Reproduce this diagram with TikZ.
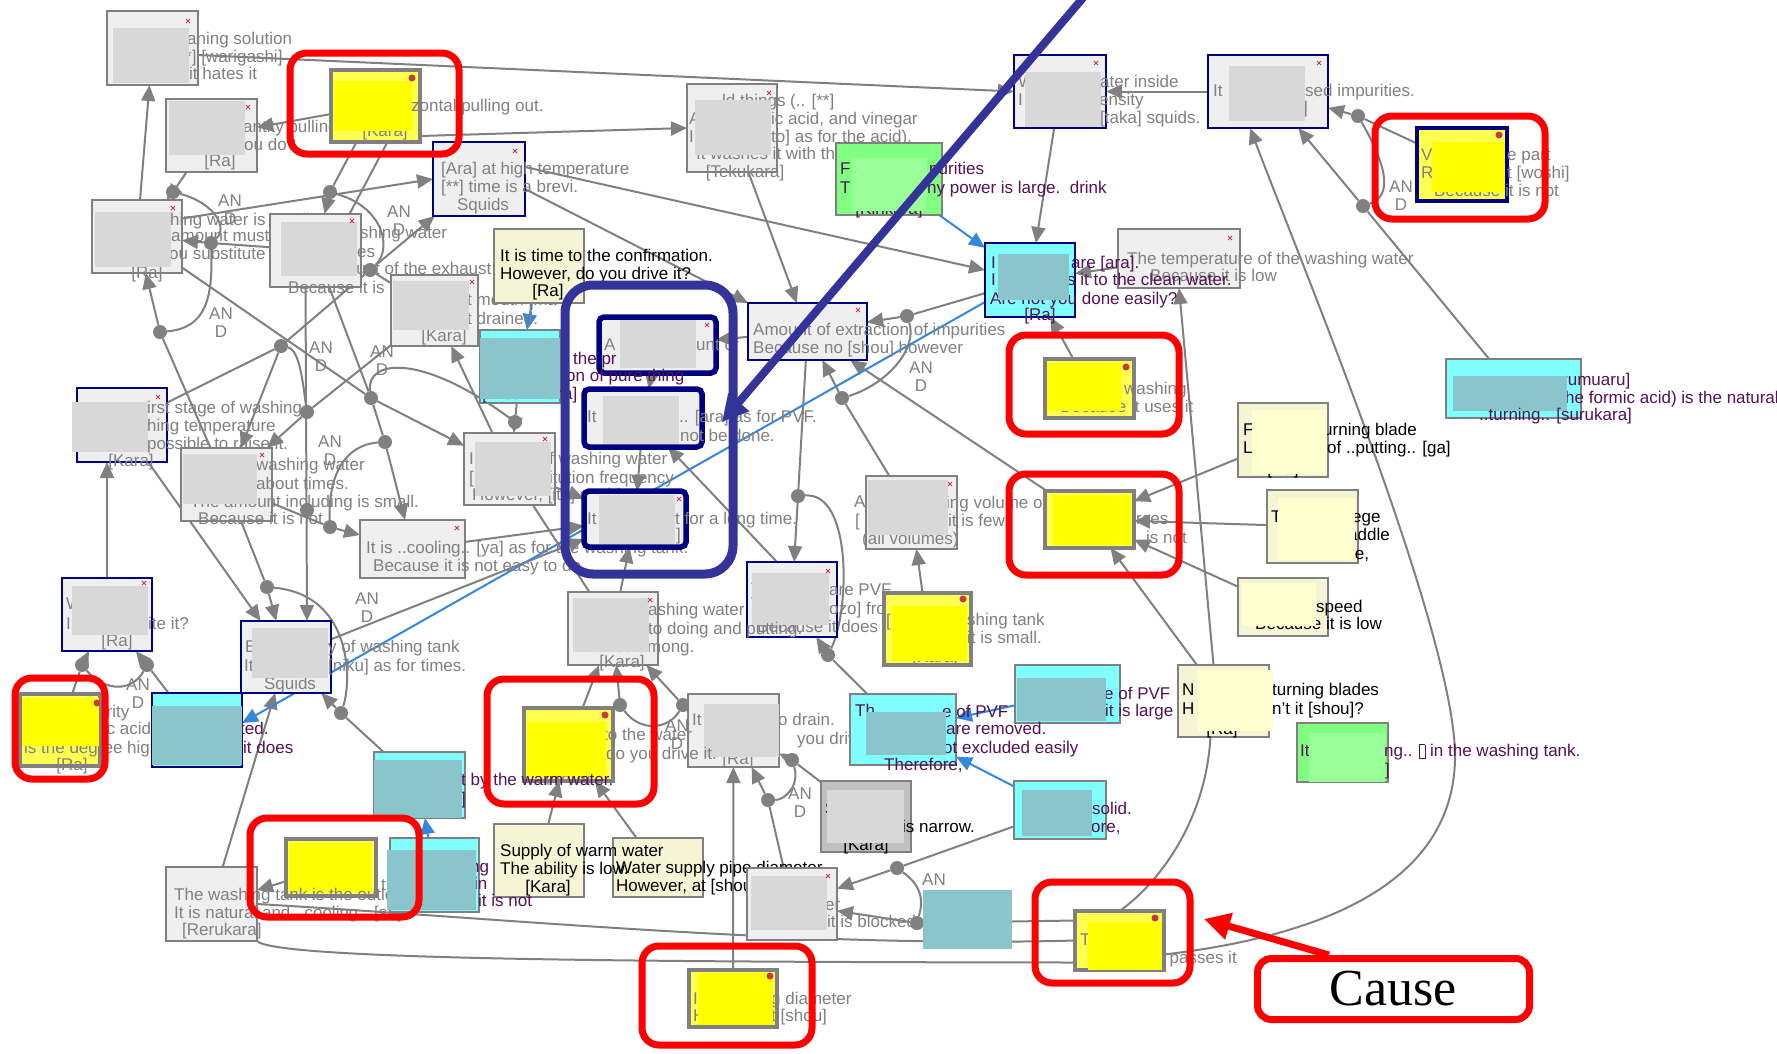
\documentclass[tikz,border=0pt]{standalone}
\usepackage{fontspec}
\setmainfont{Liberation Sans}
\newfontfamily\causefont{Liberation Serif}
\usetikzlibrary{arrows.meta,fit,backgrounds}

\definecolor{lgray}{HTML}{808080}
\definecolor{txtgray}{HTML}{808080}
\definecolor{boxfill}{HTML}{EFEFEF}
\definecolor{phgray}{HTML}{D8D8D8}
\definecolor{navybd}{HTML}{000080}
\definecolor{grpblue}{HTML}{333399}
\definecolor{yelbox}{HTML}{FFFF50}
\definecolor{yelph}{HTML}{FFFF00}
\definecolor{cyanbox}{HTML}{80FFFF}
\definecolor{cyanph}{HTML}{8AC5CC}
\definecolor{creambox}{HTML}{F5F5D5}
\definecolor{creamph}{HTML}{FFFFD0}
\definecolor{greenbox}{HTML}{80FF80}
\definecolor{greenph}{HTML}{99FF99}
\definecolor{darkbox}{HTML}{C0C0C0}
\definecolor{purp}{HTML}{551155}
\definecolor{linkblue}{HTML}{3388DD}
\definecolor{pinred}{HTML}{C83848}

\newcommand\fs{\fontsize{17}{18}\selectfont}
\newcommand\tofu{\raisebox{-1.5pt}{\setlength{\fboxsep}{0pt}\setlength{\fboxrule}{0.8pt}\fbox{\rule{0pt}{13pt}\rule{5pt}{0pt}}}}

% box from two corners, placeholder patch, text line
\newcommand\bx[6]{\node[#1, fit={(#3,#4) (#5,#6)}] (#2) {};}
\newcommand\ph[5]{\fill[#1] (#2,#3) rectangle (#4,#5);}
\newcounter{tl}
\newcommand\tw[4]{\stepcounter{tl}\node[#1] (t\arabic{tl}) at (#2,#3) {#4};}
\newcommand\andl[2]{\tw{cgray}{#1}{#2}{AN}\tw{cgray}{#1}{#2+18}{D}}
\newcommand\xm[2]{\draw[pinred, line width=0.9pt] (#1-2,#2-2) -- (#1+2,#2+2) (#1-2,#2+2) -- (#1+2,#2-2);}
\newcommand\rd[2]{\fill[pinred] (#1,#2) circle (3.5pt);}

\tikzset{
  base/.style={inner sep=0pt, outer sep=0pt},
  gbox/.style={base, draw=lgray, fill=boxfill, line width=2.2pt},
  nbox/.style={base, draw=navybd, fill=boxfill, line width=2.6pt},
  dbox/.style={base, draw=lgray, fill=darkbox, line width=2.2pt},
  ybox/.style={base, draw=lgray, fill=yelbox, line width=4pt},
  ynbox/.style={base, draw=navybd, fill=yelbox, line width=4.5pt},
  cbox/.style={base, draw=lgray, fill=cyanbox, line width=2.2pt},
  cnbox/.style={base, draw=navybd, fill=cyanbox, line width=2.6pt},
  crbox/.style={base, draw=lgray, fill=creambox, line width=2.2pt},
  grbox/.style={base, draw=lgray, fill=greenbox, line width=2.2pt},
  gin/.style={base, draw=navybd, fill=boxfill, line width=5.5pt, rounded corners=5pt},
  flatph/.style={base, fill=cyanph},
  phg/.style={fill=phgray}, phy/.style={fill=yelph}, phc/.style={fill=cyanph},
  phcr/.style={fill=creamph}, phgr/.style={fill=greenph},
  txt/.style={inner sep=0pt, font=\fs},
  tgray/.style={txt, text=txtgray, anchor=mid west},
  tpurp/.style={txt, text=purp, anchor=mid west},
  tblk/.style={txt, text=black, anchor=mid west},
  cgray/.style={txt, text=txtgray, anchor=mid},
  cpurp/.style={txt, text=purp, anchor=mid},
  cblk/.style={txt, text=black, anchor=mid},
  dotn/.style={circle, fill=lgray, inner sep=0pt, minimum size=14pt},
  conn/.style={draw=lgray, line width=2pt},
  arr/.style={-{Triangle[length=16pt,width=14pt]}},
  blueconn/.style={draw=linkblue, line width=2pt, -{Triangle[length=16pt,width=14pt]}},
  hilite/.style={draw=red, line width=7pt, rounded corners=17pt},
  grp/.style={draw=grpblue, line width=9pt, rounded corners=28pt},
}

\begin{document}
\begin{tikzpicture}[x=1pt, y=-1pt]
\useasboundingbox (0,0) rectangle (1777,1053);

% ---------- AND labels
\andl{230}{204}\andl{221}{317}\andl{399}{215}\andl{321}{351}
\andl{382}{355}\andl{330}{445}\andl{367}{602}\andl{138}{688}
\andl{921}{371}\andl{677}{729}\andl{800}{797}\andl{1401}{190}
\andl{934}{883}

% ---------- junction dots
\node[dotn] (dA) at (173,192) {};
\node[dotn] (dB) at (211,243) {};
\node[dotn] (dC) at (160,332) {};
\node[dotn] (dD) at (330,192) {};
\node[dotn] (dE) at (370,270) {};
\node[dotn] (dF) at (281,346) {};
\node[dotn] (dG) at (307,412) {};
\node[dotn] (dH) at (307,510) {};
\node[dotn] (dI) at (371,398) {};
\node[dotn] (dJ) at (385,442) {};
\node[dotn] (dK) at (330,527) {};
\node[dotn] (dL) at (267,587) {};
\node[dotn] (dM) at (341,713) {};
\node[dotn] (dN) at (82,665) {};
\node[dotn] (dO) at (147,665) {};
\node[dotn] (dT) at (620,705) {};
\node[dotn] (dU) at (683,705) {};
\node[dotn] (dV) at (792,760) {};
\node[dotn] (dW) at (768,800) {};
\node[dotn] (dX) at (897,868) {};
\node[dotn] (dY) at (917,923) {};
\node[dotn] (dS) at (907,316) {};
\node[dotn] (dR) at (842,398) {};
\node[dotn] (dP) at (798,496) {};
\node[dotn] (dQ) at (828,655) {};
\node[dotn] (dZa) at (1358,116) {};
\node[dotn] (dZb) at (1363,206) {};
\node[dotn] (dDel) at (515,422) {};

% ---------- top left
\bx{gbox}{N1}{107}{11}{198}{85}
\tw{tgray}{187}{42}{aning solution}
\tw{tgray}{185}{60}{*] [warigashi]}
\tw{tgray}{189}{77}{it hates it}
\ph{phg}{113}{28}{189}{83}
\xm{188}{21}

\bx{gbox}{N2}{166}{99}{257}{172}
\tw{tgray}{243}{130}{antity pulling}
\tw{tgray}{244}{148}{ou do?}
\tw{cgray}{220}{164}{[Ra]}
\ph{phg}{169}{101}{245}{155}
\xm{248}{107}

\bx{ybox}{Y1}{331}{70}{420}{142}
\tw{tgray}{411}{109}{zontal pulling out.}
\tw{cgray}{385}{134}{[Kara]}
\ph{phy}{334}{81}{412}{131}
\rd{412}{78}

\bx{gbox}{N3}{92}{200}{182}{273}
\tw{tgray}{170}{223}{hing water is small}
\tw{tgray}{171}{239}{amount must}
\tw{tgray}{169}{257}{ou substitute it}
\tw{cgray}{147}{276}{[Ra]}
\ph{phg}{95}{212}{171}{267}
\xm{173}{208}

\bx{gbox}{N4}{270}{214}{361}{287}
\tw{tgray}{360}{236}{shing water}
\tw{tgray}{357}{255}{es}
\tw{tgray}{289}{272}{The amount of the exhaust}
\tw{tgray}{288}{291}{Because it is}
\ph{phg}{281}{222}{357}{276}
\xm{352}{221}

\bx{nbox}{N6}{433}{142}{525}{216}
\tw{tgray}{441}{172}{[Ara] at high temperature}
\tw{tgray}{441}{190}{[**] time is a brevi.}
\tw{cgray}{483}{208}{Squids}
\xm{515}{151}

\bx{gbox}{N5}{391}{275}{478}{346}
\tw{tgray}{467}{303}{t mouth [ma}
\tw{tgray}{467}{322}{t drained.}
\tw{cgray}{444}{339}{[Kara]}
\ph{phg}{393}{281}{469}{330}
\xm{472}{282}

\bx{crbox}{N8}{494}{229}{584}{303}
\tw{tblk}{500}{259}{It is time to the confirmation.}
\tw{tblk}{500}{277}{However, do you drive it?}
\tw{cblk}{548}{294}{[Ra]}

% ---------- group, first member with neighbour
\bx{gin}{G1}{599}{317}{716}{373}
\tw{tgray}{604}{348}{A}
\tw{tgray}{696}{348}{unt of}
\xm{707}{325}
\bx{cbox}{N31}{480}{330}{560}{403}
\tw{tpurp}{573}{362}{the pr}
\tw{tpurp}{566}{379}{on of pure thing}
\tw{tpurp}{482}{397}{[Woshimura]}
\ph{phc}{480}{338}{560}{399}
\ph{phg}{620}{320}{696}{368}

% ---------- top middle / right
\bx{gbox}{N7}{687}{84}{777}{172}
\tw{tgray}{722}{104}{ld things (.. [**]}
\tw{tgray}{689}{122}{A}
\tw{tgray}{771}{122}{ic acid, and vinegar}
\tw{tgray}{689}{140}{I}
\tw{tgray}{771}{140}{to] as for the acid).}
\tw{tgray}{696}{157}{It washes it with the liquid}
\tw{cgray}{745}{175}{[Tekukara]}
\ph{phg}{695}{100}{771}{155}
\xm{769}{93}

\bx{grbox}{N9}{836}{143}{942}{215}
\tw{tpurp}{840}{172}{F}
\tw{tpurp}{929}{172}{purities}
\tw{tpurp}{840}{191}{T}
\tw{tpurp}{927}{191}{ny power is large.\ \ drink}
\tw{cpurp}{889}{212}{[Kinkara]}
\ph{phgr}{852}{158}{927}{211}

\bx{nbox}{N10}{748}{303}{867}{360}
\tw{tgray}{753}{333}{Amount of extraction of impurities}
\tw{tgray}{753}{351}{Because no [shou] however}
\xm{858}{310}

\bx{nbox}{N11}{1014}{55}{1106}{128}
\tw{tgray}{1018}{85}{W}
\tw{tgray}{1100}{85}{ater inside}
\tw{tgray}{1018}{103}{I}
\tw{tgray}{1099}{103}{ensity}
\tw{tgray}{1100}{121}{[taka] squids.}
\ph{phg}{1025}{72}{1101}{127}
\xm{1096}{63}

\bx{nbox}{N12}{1208}{55}{1328}{128}
\tw{tgray}{1213}{94}{It}
\tw{tgray}{1305}{94}{sed impurities.}
\tw{tgray}{1303}{111}{]}
\ph{phg}{1229}{66}{1305}{121}
\xm{1319}{63}

\bx{gbox}{N14}{1118}{229}{1240}{288}
\tw{tgray}{1127}{262}{The temperature of the washing water}
\tw{tgray}{1150}{279}{Because it is low}
\xm{1230}{238}

\bx{cnbox}{N13}{985}{243}{1075}{317}
\tw{tpurp}{991}{266}{I}
\tw{tpurp}{1071}{266}{are [ara].}
\tw{tpurp}{991}{283}{I}
\tw{tpurp}{1067}{283}{s it to the clean water.}
\tw{tpurp}{990}{302}{Are not you done easily?}
\tw{cpurp}{1040}{318}{[Ra]}
\ph{phc}{998}{254}{1069}{300}

\bx{ynbox}{Y2}{1417}{128}{1507}{201}
\tw{tgray}{1421}{158}{V}
\tw{tgray}{1507}{158}{e part}
\tw{tgray}{1421}{176}{R}
\tw{tgray}{1507}{176}{t [woshi]}
\tw{tgray}{1434}{194}{Because it is not}
\ph{phy}{1432}{142}{1505}{192}
\rd{1499}{135}

\bx{cbox}{N15}{1446}{359}{1581}{418}
\tw{tpurp}{1562}{383}{rumuaru]}
\tw{tpurp}{1565}{401}{he formic acid) is the natural}
\ph{phc}{1453}{376}{1567}{411}
\tw{tpurp}{1479}{418}{..turning.. [surukara]}

\bx{ybox}{Y3}{1045}{359}{1134}{418}
\tw{tgray}{1124}{392}{washing}
\tw{tgray}{1060}{410}{Because it uses it}
\ph{phy}{1047}{363}{1121}{411}
\rd{1126}{367}

% ---------- right column
\bx{crbox}{C1}{1238}{403}{1328}{477}
\tw{tblk}{1243}{433}{F}
\tw{tblk}{1323}{433}{urning blade}
\tw{tblk}{1243}{451}{L}
\tw{tblk}{1327}{451}{of ..putting.. [ga]}
\tw{cblk}{1283}{472}{[Ra]}
\ph{phcr}{1252}{410}{1327}{474}

\bx{crbox}{C2}{1267}{490}{1358}{563}
\tw{tblk}{1271}{520}{T}
\tw{tblk}{1352}{520}{ege}
\tw{tblk}{1348}{538}{addle}
\tw{tblk}{1349}{557}{re,}
\ph{phcr}{1278}{498}{1355}{560}

\bx{crbox}{C3}{1238}{578}{1328}{636}
\tw{tblk}{1316}{610}{speed}
\tw{tblk}{1255}{627}{Because it is low}
\ph{phcr}{1242}{583}{1316}{626}

\bx{ybox}{Y5}{1045}{491}{1134}{548}
\tw{tgray}{1136}{522}{rces}
\tw{tgray}{1146}{541}{is not}
\ph{phy}{1053}{495}{1131}{545}

\bx{gbox}{N17}{866}{476}{957}{549}
\tw{tgray}{854}{505}{A}
\tw{tgray}{946}{506}{ing volume of}
\tw{tgray}{855}{524}{[}
\tw{tgray}{948}{524}{it is few}
\tw{tgray}{862}{542}{(all volumes)}
\ph{phg}{868}{480}{948}{535}
\xm{950}{484}

\bx{nbox}{N35}{747}{562}{837}{637}
\tw{tgray}{751}{593}{]}
\tw{tgray}{829}{593}{are PVF}
\tw{tgray}{829}{612}{ozo] from}
\tw{tgray}{757}{630}{Because it does}
\ph{phg}{752}{573}{829}{625}
\xm{828}{571}

\bx{ybox}{Y4}{884}{593}{971}{665}
\tw{tgray}{886}{624}{[}
\tw{tgray}{967}{623}{shing tank}
\tw{tgray}{967}{641}{it is small.}
\tw{cgray}{935}{660}{[Kara]}
\ph{phy}{892}{606}{967}{661}
\rd{963}{599}

\bx{crbox}{C4}{1178}{665}{1269}{737}
\tw{tblk}{1182}{693}{N}
\tw{tblk}{1272}{693}{turning blades}
\tw{tblk}{1182}{712}{H}
\tw{tblk}{1272}{712}{n't it [shou]?}
\tw{cblk}{1222}{732}{[Ra]}
\ph{phcr}{1198}{670}{1273}{731}

\bx{cbox}{N18}{1015}{665}{1120}{723}
\tw{tpurp}{1104}{697}{e of PVF}
\tw{tpurp}{1105}{714}{it is large}
\ph{phc}{1017}{678}{1106}{721}

\bx{grbox}{N16}{1297}{723}{1388}{782}
\tw{tpurp}{1300}{754}{It}
\tw{tpurp}{1384}{754}{ng.. \tofu\ in the washing tank.}
\tw{tpurp}{1385}{773}{]}
\ph{phgr}{1309}{733}{1385}{782}

\bx{cbox}{N20}{1014}{781}{1106}{839}
\tw{tpurp}{1092}{812}{solid.}
\tw{tpurp}{1091}{830}{ore,}
\ph{phc}{1022}{790}{1092}{836}

\bx{dbox}{N21}{821}{781}{911}{852}
\tw{tblk}{825}{812}{S}
\tw{tblk}{902}{830}{is narrow.}
\tw{cblk}{866}{848}{[Kara]}
\ph{phg}{827}{790}{904}{843}

% ---------- bottom middle
\bx{crbox}{N30}{613}{838}{703}{897}
\tw{tblk}{616}{871}{Water supply pipe diameter}
\tw{tblk}{616}{889}{However, at [shou]}

\bx{crbox}{N29}{494}{824}{584}{897}
\tw{tblk}{500}{854}{Supply of warm water}
\tw{tblk}{500}{872}{The ability is low.}
\tw{cblk}{548}{890}{[Kara]}

\bx{gbox}{N22}{747}{868}{837}{940}
\tw{tgray}{825}{908}{er}
\tw{tgray}{827}{925}{it is blocked.}
\ph{phg}{751}{876}{827}{930}
\xm{828}{876}

\node[flatph, fit={(923,890) (1012,949)}] (N23) {};

\bx{ybox}{Y9}{1075}{911}{1164}{970}
\tw{tgray}{1080}{943}{T}
\tw{tgray}{1160}{961}{t passes it}
\ph{phy}{1088}{922}{1162}{970}
\rd{1155}{918}

% ---------- left cluster
\bx{nbox}{N36}{77}{388}{167}{462}
\tw{tgray}{147}{411}{irst stage of washing}
\tw{tgray}{147}{429}{hing temperature}
\tw{tgray}{147}{447}{possible to raise it.}
\tw{cgray}{131}{464}{[Kara]}
\ph{phg}{72}{402}{148}{452}
\xm{158}{397}

\bx{gbox}{N37}{181}{448}{272}{521}
\tw{tgray}{256}{468}{washing water}
\tw{tgray}{256}{487}{about times.}
\tw{tgray}{190}{505}{The amount including is small.}
\tw{tgray}{198}{522}{Because it is not}
\ph{phg}{183}{454}{257}{504}
\xm{262}{455}

\bx{gbox}{N33}{360}{520}{465}{578}
\tw{tgray}{366}{551}{It is ..cooling.. [ya] as for the washing tank.}
\tw{tgray}{373}{569}{Because it is not easy to do.}
\xm{457}{528}

\bx{gbox}{N32}{464}{433}{555}{505}
\tw{tgray}{469}{462}{I}
\tw{tgray}{549}{462}{f washing water}
\tw{tgray}{469}{481}{[}
\tw{tgray}{549}{481}{itution frequency}
\tw{tgray}{472}{498}{However, [ita] squids.}
\ph{phg}{475}{442}{551}{496}
\xm{545}{439}

\bx{gin}{G2}{584}{389}{702}{447}
\tw{tgray}{587}{420}{It}
\tw{tgray}{679}{420}{.. [ara] as for PVF.}
\tw{tgray}{680}{439}{not be done.}
\ph{phg}{603}{396}{679}{444}

\bx{gin}{G3}{584}{491}{686}{547}
\tw{tgray}{587}{522}{It}
\tw{tgray}{675}{522}{t for a long time.}
\tw{tgray}{676}{538}{]}
\ph{phg}{599}{495}{675}{544}
\xm{679}{499}

\bx{gbox}{N34}{568}{592}{658}{665}
\tw{tgray}{648}{613}{ashing water}
\tw{tgray}{648}{632}{to doing and putting.}
\tw{tgray}{578}{650}{It takes among.}
\tw{cgray}{622}{665}{[Kara]}
\ph{phg}{573}{598}{649}{652}
\xm{650}{600}

\bx{nbox}{N38}{62}{578}{152}{651}
\tw{tgray}{66}{607}{W}
\tw{tgray}{66}{627}{I}
\tw{tgray}{148}{627}{ite it?}
\tw{cgray}{117}{644}{[Ra]}
\ph{phg}{72}{586}{148}{635}
\xm{144}{583}

\bx{nbox}{N39}{241}{621}{331}{693}
\tw{tgray}{245}{650}{E}
\tw{tgray}{328}{650}{y of washing tank}
\tw{tgray}{244}{669}{It}
\tw{tgray}{328}{669}{[niku] as for times.}
\tw{cgray}{290}{687}{Squids}
\ph{phg}{252}{628}{328}{678}

\bx{ybox}{Y6}{20}{694}{100}{766}
\tw{tgray}{97}{715}{urity}
\tw{tgray}{98}{732}{tic acid}
\tw{tgray}{24}{751}{is the degree high}
\tw{cgray}{72}{768}{[Ra]}
\ph{phy}{22}{698}{99}{746}
\rd{97}{703}

\bx{cnbox}{N24}{152}{693}{242}{767}
\tw{tpurp}{240}{732}{ted.}
\tw{tpurp}{243}{751}{it does}
\ph{phc}{152}{706}{242}{765}

\bx{gbox}{N28}{688}{694}{779}{767}
\tw{tgray}{692}{723}{It}
\tw{tgray}{778}{723}{o drain.}
\tw{tgray}{797}{742}{you drive it.}
\tw{cgray}{738}{762}{[Ra]}
\ph{phg}{704}{704}{779}{757}

\bx{cbox}{N19}{850}{694}{956}{765}
\tw{tpurp}{855}{714}{Th}
\tw{tpurp}{942}{715}{e of PVF}
\tw{tpurp}{946}{732}{are removed.}
\tw{tpurp}{943}{751}{ot excluded easily}
\ph{phc}{866}{712}{946}{755}
\tw{tpurp}{884}{768}{Therefore,}

\bx{ybox}{Y8}{524}{708}{613}{781}
\tw{tgray}{603}{738}{to the water}
\tw{tgray}{606}{757}{do you drive it.}
\tw{cgray}{568}{779}{[Kara]}
\ph{phy}{527}{722}{606}{776}
\rd{605}{715}

\bx{ybox}{Y7}{286}{839}{376}{896}
\ph{phy}{289}{843}{372}{892}
\tw{tgray}{381}{888}{t}

\bx{gbox}{N25}{166}{867}{257}{941}
\tw{tgray}{174}{898}{The washing tank is the outlet.}
\tw{tgray}{174}{916}{It is natural and ..cooling.. [sa]}
\tw{tgray}{182}{933}{[Rerukara]}

\bx{cbox}{N27}{374}{752}{465}{818}
\tw{tpurp}{461}{783}{t by the warm water.}
\tw{tpurp}{461}{802}{]}
\ph{phc}{374}{760}{462}{818}

\bx{cbox}{N26}{390}{838}{479}{912}
\tw{tpurp}{470}{870}{ng}
\tw{tpurp}{474}{887}{in}
\tw{tpurp}{478}{904}{it is not}
\ph{phc}{387}{850}{476}{910}

\bx{ybox}{Y10}{689}{970}{777}{1027}
\tw{tgray}{693}{1002}{I}
\tw{tgray}{771}{1002}{g diameter}
\tw{tgray}{693}{1019}{H}
\tw{tgray}{771}{1019}{t [shou]}
\ph{phy}{698}{973}{773}{1025}
\rd{770}{976}

% ---------- highlight frames and pointers
\draw[hilite] (290,53) rectangle (459,154);
\draw[hilite] (1375,116) rectangle (1545,219);
\draw[hilite] (1009,335) rectangle (1179,434);
\draw[hilite] (1009,474) rectangle (1179,575);
\draw[hilite] (15,678) rectangle (105,779);
\draw[hilite] (250,818) rectangle (419,917);
\draw[hilite] (487,679) rectangle (654,804);
\draw[hilite] (1035,882) rectangle (1190,983);
\draw[hilite] (642,946) rectangle (812,1045);
\draw[grp] (565,285) rectangle (733,574);

\coordinate (bbstart) at (1088,-8);
\coordinate (bbtip) at (722,422);
\draw[grpblue, line width=8pt, -{Triangle[length=26pt,width=26pt]}] (bbstart) -- (bbtip);

\node[draw=red, line width=7pt, rounded corners=14pt, fill=white,
      minimum width=272pt, minimum height=61pt, inner sep=0pt,
      font=\causefont\fontsize{52}{52}\selectfont] (cause) at (1393.5,989) {Cause};
\coordinate (rtip) at (1204,919);
\draw[red, line width=7pt, -{Triangle[length=26pt,width=26pt]}] ([xshift=75pt]cause.north west) -- (rtip);

% ---------- connectors (beneath everything)
\begin{scope}[on background layer]
\fill[white] (0,0) rectangle (1777,1053);
\draw[conn,arr] (N3) -- (N1);
\draw[conn,arr] (Y1) -- (N2);
\draw[conn] (N2) -- (dA); \draw[conn,arr] (dA) -- (N3);
\draw[conn] (N4) -- (dB); \draw[conn,arr] (dB) -- (N3);
\draw[conn] (N37) -- (dC); \draw[conn,arr] (dC) -- (N3);
\draw[conn] (dA) .. controls (215,203) and (228,228) .. (dB);
\draw[conn] (dB) .. controls (213,300) and (205,328) .. (dC);
\draw[conn] (Y1) -- (dD); \draw[conn,arr] (dD) -- (N4);
\draw[conn,arr] ([yshift=18pt]N3.east) -- (N6.west);
\draw[conn] ([xshift=12pt]Y1.south) -- ([xshift=34pt]N4.north);
\draw[conn] (dD) .. controls (385,208) and (392,250) .. (dE);
\draw[conn] (N5) -- (dE); \draw[conn,arr] (dE) -- (N6);
\draw[conn] (N36) -- (dF); \draw[conn] (dF) -- (dE);
\draw[conn,arr] (dF) -- (N37);
\draw[conn] (dF) .. controls (300,350) and (303,385) .. (dG);
\draw[conn] (N5) -- (dG); \draw[conn,arr] (dG) -- (N37);
\draw[conn,arr] ([xshift=-10pt]N4.south) -- ([xshift=21pt]N39.north);
\draw[conn,arr] (N36) -- (N39);
\draw[conn,arr] (N38.north) -- ([xshift=-15pt]N36.south);
\draw[conn] (N37) -- (dL); \draw[conn,arr] (dL) -- (N39);
\draw[conn] (N37) -- (dK); \draw[conn,arr] (dK) -- (N33);
\draw[conn] (N3) -- (dI); \draw[conn] (N4) -- (dI);
\draw[conn,arr] (dI) -- (N32);
\draw[conn] (dI) -- (dJ); \draw[conn,arr] (dJ) -- (N33);
\draw[conn] (dJ) .. controls (345,445) and (328,475) .. (dK);
\draw[conn] (N31) -- (dDel); \draw[conn,arr] (dDel) -- (N32);
\draw[conn] (dI) .. controls (366,360) and (420,352) .. (dDel);
\draw[conn,arr] (N32) -- (N5);
\draw[conn,arr] (N32) -- (G3);
\draw[conn,arr] (N33) -- (G3);
\draw[conn,arr] (N39) -- (G3);
\draw[conn] (N32) -- (N34);
\draw[conn,arr] (N34) -- (G3);
\draw[conn,arr] (Y8) -- (N34);
\draw[conn] (Y8) -- (dT); \draw[conn,arr] (dT) -- (N34);
\draw[conn] (N28) -- (dU); \draw[conn,arr] (dU) -- (N34);
\draw[conn] (dT) .. controls (640,732) and (668,730) .. (dU);
\draw[conn,arr] (N29) -- (Y8);
\draw[conn,arr] (N30) -- (Y8);
\draw[conn,arr] (Y10) -- (N28);
\draw[conn] (N22) -- (dW); \draw[conn,arr] (dW) -- (N28);
\draw[conn] (N21) -- (dV); \draw[conn,arr] (dV) -- (N28);
\draw[conn] (dV) .. controls (800,785) and (785,800) .. (dW);
\draw[conn] (N20) -- (dX); \draw[conn,arr] (dX) -- (N22);
\draw[conn] ([yshift=20pt]Y9.west) -- (dY); \draw[conn,arr] (dY) -- (N22);
\draw[conn] (dX) .. controls (925,888) and (922,905) .. (dY);
\draw[blueconn] (N18) -- (N19);
\draw[blueconn] (N20) -- (N19);
\draw[conn] (N19) -- (dQ); \draw[conn,arr] (dQ) -- (N35);
\draw[conn] (N10) -- (dP); \draw[conn,arr] (dP) -- (N35);
\draw[conn] (dP) .. controls (852,492) and (850,610) .. (dQ);
\draw[conn,arr] ([xshift=30pt]N35.north west) -- ([xshift=-34pt]G2.south east);
\draw[conn,arr] (G1) -- (G2);
\draw[conn,arr] (G2) -- (G3);
\draw[conn,arr] (N10) -- (G1);
\draw[conn,arr] (Y4) -- (N17);
\draw[conn] (N17) -- (dR); \draw[conn,arr] (dR) -- (N10);
\draw[conn] (N13) -- (dS); \draw[conn,arr] (dS) -- (N10);
\draw[conn] (dS) .. controls (918,350) and (885,385) .. (dR);
\draw[conn,arr] (Y5) -- (N10);
\draw[conn,arr] (C1) -- (Y5);
\draw[conn,arr] (C2) -- (Y5);
\draw[conn,arr] (C3) -- (Y5);
\draw[conn,arr] (C4) -- (Y5);
\draw[conn,arr] (Y3) -- (N13);
\draw[conn,arr] (N14) -- (N13);
\draw[conn,arr] (N11) -- (N13);
\draw[conn,arr] (N12) -- (N11);
\draw[blueconn] (N9) -- (N13);
\draw[conn,arr] ([yshift=12pt]N6.east) -- ([yshift=10pt]N13.west);
\draw[conn,arr] ([yshift=-10pt]N6.east) -- (N10.north west);
\draw[conn,arr] (N7) -- (N10);
\draw[conn,arr] ([yshift=-30pt]Y1.east) -- (N7.west);
\draw[conn,arr] ([yshift=-7pt]N1.east) -- (N11.west);
\draw[conn] (Y2) -- (dZa); \draw[conn,arr] (dZa) -- (N12);
\draw[conn] (N15) -- (dZb); \draw[conn,arr] (dZb) -- (N12);
\draw[conn] (dZa) .. controls (1388,168) and (1392,196) .. (dZb);
\draw[conn,arr] ([yshift=-14pt]Y9.east) .. controls (1330,935) and (1452,880) .. (1455,760)
   .. controls (1458,640) and (1300,260) .. ([xshift=-18pt]N12.south);
\draw[conn,arr] ([xshift=-10pt]C4.north) -- (N14.south);
\draw[conn] (Y9.north) .. controls (1150,890) and (1205,830) .. ([xshift=-13pt]C4.south);
\draw[conn] (N25.east) .. controls (500,918) and (800,948) .. (Y9.west);
\draw[conn] (N25.south east) .. controls (275,960) and (650,962) .. ([yshift=-22pt]Y9.west);
\draw[conn,arr] (Y7) -- (N25);
\draw[conn,arr] (N25) -- (N39);
\draw[conn] (N27) -- (dM); \draw[conn,arr] (dM) -- (N39);
\draw[conn] (dL) .. controls (352,595) and (352,680) .. (dM);
\draw[blueconn] (N26) -- (N27);
\draw[conn] (Y6) -- (dN); \draw[conn,arr] (dN) -- (N38);
\draw[conn] (N24) -- (dO); \draw[conn,arr] (dO) -- (N38);
\draw[conn] (dN) .. controls (105,692) and (132,692) .. (dO);
\draw[blueconn] ([yshift=15pt]N13.south west) -- ([yshift=-30pt]N24.north east);
\draw[blueconn] (N8) -- (N31);
\end{scope}
\end{tikzpicture}
\end{document}
